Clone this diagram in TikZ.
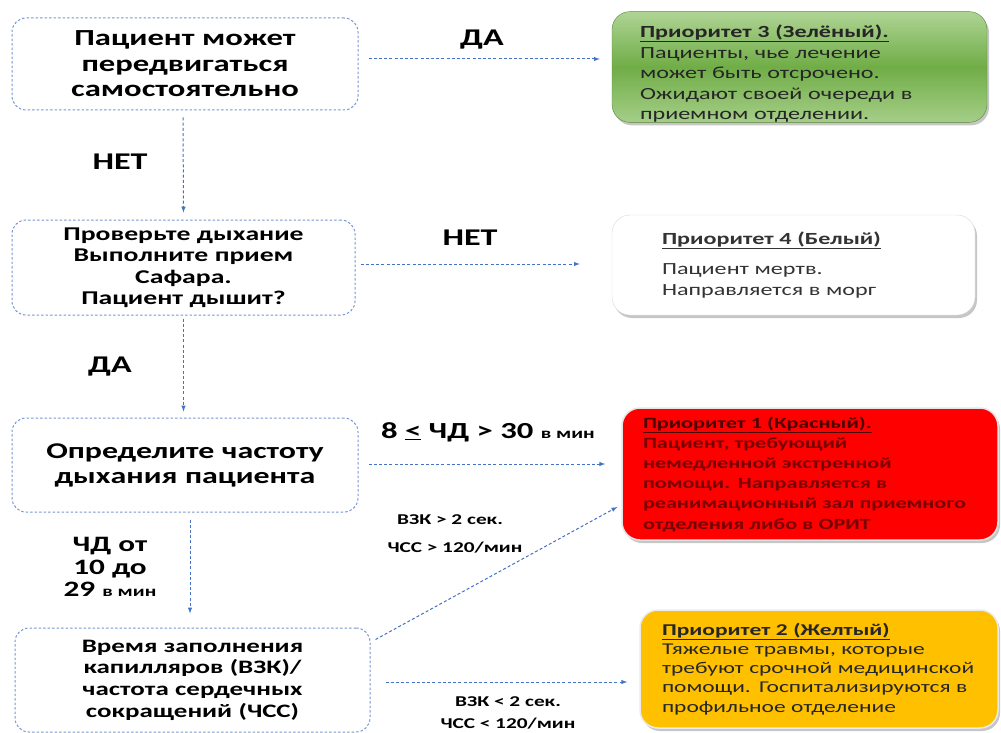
\documentclass[tikz,border=0pt]{standalone}
\usepackage{fontspec}
\setmainfont{Carlito}[FakeStretch=1.42]
\usetikzlibrary{arrows,shadows}
\definecolor{flowblue}{RGB}{68,114,196}
\definecolor{boxblue}{RGB}{120,150,210}
\definecolor{greentop}{RGB}{175,212,148}
\definecolor{greenmid}{RGB}{112,173,71}
\definecolor{greenedge}{RGB}{90,135,60}
\definecolor{redtext}{RGB}{120,0,0}
\definecolor{yellowfill}{RGB}{255,192,0}

\begin{document}
\begin{tikzpicture}[x=1pt,y=-1pt]
\tikzstyle{every node}=[inner ysep=0pt]
\tikzstyle{qbox}=[draw=boxblue, line width=1pt, dash pattern=on 2.5pt off 2pt, rounded corners=14pt, inner xsep=10pt, align=center]
\tikzstyle{pbox}=[rounded corners=18pt, align=left, drop shadow={shadow xshift=2pt, shadow yshift=-3pt, opacity=.45}]
\tikzstyle{flow}=[draw=flowblue, line width=1pt, dash pattern=on 3pt off 2.2pt, -latex]
\tikzstyle{lbl}=[font=\bfseries\fontsize{24}{27}\selectfont]
\tikzstyle{small}=[font=\bfseries\fontsize{15}{18}\selectfont]
\useasboundingbox (0,0) rectangle (1001,733);

% question boxes
\draw (185,64) node (pA) [qbox, text width=326pt, minimum height=92pt, font=\bfseries\fontsize{23}{25.5}\selectfont] {Пациент может\\передвигаться\\самостоятельно};
\draw (183.5,267.5) node (pB) [qbox, text width=323pt, minimum height=95pt, font=\bfseries\fontsize{19.5}{21.5}\selectfont] {Проверьте дыхание\\Выполните прием\\Сафара.\\Пациент дышит?};
\draw (185,465) node (pC) [qbox, text width=326pt, minimum height=94pt, font=\bfseries\fontsize{22.5}{25}\selectfont] {Определите частоту\\дыхания пациента};
\draw (192.5,680) node (pD) [qbox, text width=335pt, minimum height=104pt, font=\bfseries\fontsize{19}{21.7}\selectfont] {Время заполнения\\капилляров (ВЗК)/\\частота сердечных\\сокращений (ЧСС)};

% priority boxes
\draw (799.5,67) node (pG) [pbox, draw=greenedge, top color=greentop, bottom color=greentop!85!greenmid, middle color=greenmid, inner xsep=28pt, text width=319pt, minimum height=110pt, font=\fontsize{17}{20.5}\selectfont, text=black!85] {\rule{0pt}{26pt}\textbf{\underline{Приоритет 3 (Зелёный).}}\\Пациенты, чье лечение\\может быть отсрочено.\\Ожидают своей очереди в\\приемном отделении.};
\draw (793.5,265) node (pW) [pbox, draw=black!15, fill=white, inner xsep=50pt, text width=263pt, minimum height=100pt, font=\fontsize{17}{21}\selectfont, text=black!80] {\textbf{\underline{Приоритет 4 (Белый)}}\\[9pt]Пациент мертв.\\Направляется в морг};
\draw (810,474) node (pR) [pbox, draw=black!10, line width=1.5pt, fill=red, inner xsep=21pt, text width=334pt, minimum height=132pt, font=\bfseries\fontsize{15.6}{20.2}\selectfont, text=redtext] {{\color{black!70!red}\underline{Приоритет 1 (Красный).}}\\Пациент, требующий\\немедленной экстренной\\помощи. Направляется в\\реанимационный зал приемного\\отделения либо в ОРИТ};
\draw (819,669) node (pY) [pbox, draw=black!8, line width=1.5pt, fill=yellowfill, inner xsep=22pt, text width=314pt, minimum height=118pt, font=\fontsize{16.5}{19.2}\selectfont, text=black!85] {\textbf{\underline{Приоритет 2 (Желтый)}}\\Тяжелые травмы, которые\\требуют срочной медицинской\\помощи. Госпитализируются в\\профильное отделение};

% connectors
\draw[flow] ([xshift=10pt,yshift=5pt]pA.east) -- ([xshift=-12pt,yshift=8pt]pG.west);
\draw[flow] ([xshift=-2pt,yshift=-7pt]pA.south) -- ([yshift=7pt]pB.north);
\draw[flow] ([xshift=5pt,yshift=3.5pt]pB.east) -- ([xshift=-32pt,yshift=1pt]pW.west);
\draw[flow] ([yshift=-3pt]pB.south) -- ([xshift=-1.5pt,yshift=6pt]pC.north);
\draw[flow] ([xshift=10pt,yshift=1pt]pC.east) -- ([xshift=-16pt,yshift=10pt]pR.west);
\draw[flow] ([xshift=5pt,yshift=-7pt]pC.south) -- ([xshift=-2.5pt,yshift=14pt]pD.north);
\draw[flow] ([xshift=15pt,yshift=-2pt]pD.east) -- ([xshift=-12pt,yshift=-13pt]pY.west);
\draw[flow] ([xshift=5pt,yshift=-12pt]pD.north east) -- ([xshift=-4pt,yshift=-33pt]pR.west);

% labels
\draw (482,40) node (lYes1) [lbl] {ДА};
\draw (120,162) node (lNo1) [lbl] {НЕТ};
\draw (470,238) node (lNo2) [lbl] {НЕТ};
\draw (110,367) node (lYes2) [lbl] {ДА};
\draw (488,432) node (lRate) [lbl, font=\bfseries\fontsize{23}{26}\selectfont] {8 \underline{<} ЧД > 30 {\fontsize{15}{18}\selectfont в мин}};
\draw (110,567) node (lNorm) [lbl, align=center, font=\bfseries\fontsize{22}{22.5}\selectfont] {ЧД от\\10 до\\29 {\fontsize{15}{18}\selectfont в мин}};
\draw (450,520) node (lCapHi) [small] {ВЗК > 2 сек.};
\draw (455,548) node (lHrHi) [small] {ЧСС > 120/мин};
\draw (508,702) node (lCapLo) [small] {ВЗК < 2 сек.};
\draw (508,724) node (lHrLo) [small] {ЧСС < 120/мин};
\end{tikzpicture}
\end{document}
